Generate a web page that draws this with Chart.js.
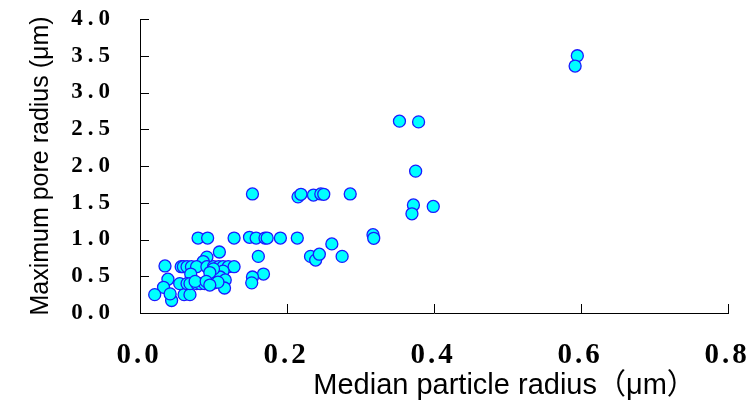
<!DOCTYPE html>
<html>
<head>
<meta charset="utf-8">
<script src="https://cdn.jsdelivr.net/npm/chart.js@4"></script>
<style>
  html, body { margin: 0; padding: 0; background: #fff; }
  #wrap { width: 750px; height: 410px; position: relative; }
</style>
</head>
<body>
<div id="wrap"><canvas id="chart"></canvas></div>
<script>
// median particle radius (um) and maximum pore radius (um)
let radiusX = [
  0.595, 0.592, 0.353, 0.379, 0.375,
  0.153, 0.215, 0.219, 0.236, 0.246, 0.250, 0.286,
  0.372, 0.370, 0.399,
  0.079, 0.092, 0.128, 0.149, 0.158, 0.170, 0.173, 0.191, 0.214,
  0.317, 0.318, 0.261, 0.161, 0.232, 0.239, 0.244, 0.275,
  0.168, 0.153, 0.152,
  0.108, 0.091, 0.086, 0.034,
  0.056, 0.059, 0.064, 0.070, 0.077, 0.091, 0.100, 0.107, 0.113, 0.120, 0.128,
  0.113, 0.069, 0.109, 0.116, 0.038, 0.032, 0.020, 0.043,
  0.041, 0.060, 0.068, 0.115,
  0.054, 0.064, 0.068, 0.077, 0.082, 0.088, 0.095, 0.101, 0.106,
  0.100, 0.095, 0.075, 0.090, 0.095
];
let poreY = [
  3.50, 3.36, 2.61, 2.60, 1.93,
  1.62, 1.58, 1.615, 1.605, 1.62, 1.615, 1.62,
  1.47, 1.35, 1.45,
  1.02, 1.02, 1.02, 1.03, 1.02, 1.02, 1.02, 1.02, 1.02,
  1.065, 1.016, 0.94, 0.77, 0.77, 0.72, 0.80, 0.77,
  0.53, 0.49, 0.41,
  0.83, 0.76, 0.70, 0.64,
  0.63, 0.63, 0.63, 0.63, 0.63, 0.63, 0.63, 0.63, 0.63, 0.63, 0.63,
  0.57, 0.53, 0.49, 0.45, 0.46, 0.35, 0.25, 0.17,
  0.26, 0.25, 0.25, 0.34,
  0.40, 0.40, 0.40, 0.40, 0.40, 0.40, 0.40, 0.41, 0.42,
  0.60, 0.55, 0.43, 0.43, 0.38
];
let xTitle = "Median particle radius（μm）";
let yTitle = "Maximum pore radius (μm)";

let points = radiusX.map((x, i) => ({ x: x, y: poreY[i] }));

// letter spacing (and a small nudge) for the tick labels, per scale
const spacingPlugin = {
  id: 'spacing',
  afterLayout(chart) {
    Object.values(chart.scales).forEach(scale => {
      if (scale._wrapped) return;
      let orig = scale.drawLabels;
      let sp = scale.options.ticks.spacing || '0px';
      let dx = scale.options.ticks.shift || 0;
      scale.drawLabels = function (area) {
        let c = this.ctx;
        c.save();
        c.letterSpacing = sp;
        c.translate(dx, 0);
        orig.call(this, area);
        c.restore();
      };
      scale._wrapped = true;
    });
  }
};

// tick marks point into the plot, like the original
const innerTicks = {
  id: 'innerTicks',
  afterDraw(chart) {
    let c = chart.ctx;
    let a = chart.chartArea;
    let xs = chart.scales.x, ys = chart.scales.y;
    c.save();
    c.strokeStyle = '#000';
    c.lineWidth = 1;
    c.beginPath();
    xs.ticks.forEach(t => {
      let px = Math.round(xs.getPixelForValue(t.value)) + 0.5;
      c.moveTo(px, a.bottom);
      c.lineTo(px, a.bottom - 9);
    });
    ys.ticks.forEach(t => {
      let py = Math.round(ys.getPixelForValue(t.value)) + 0.5;
      c.moveTo(a.left, py);
      c.lineTo(a.left + 9, py);
    });
    c.stroke();
    c.restore();
  }
};

// x axis title sits right of centre in the original
const xTitlePlugin = {
  id: 'xtitle',
  afterDraw(chart) {
    let c = chart.ctx;
    let a = chart.chartArea;
    c.save();
    c.font = '29px "Liberation Sans", "Noto Sans CJK SC", sans-serif';
    c.fillStyle = '#000';
    c.textAlign = 'center';
    c.textBaseline = 'middle';
    c.fillText(xTitle, a.left + (a.right - a.left) * 0.62, 386);
    c.restore();
  }
};

function noPad(s) {
  s.paddingTop = 0;
  s.paddingBottom = 0;
  s.paddingLeft = 0;
  s.paddingRight = 0;
}

new Chart(document.getElementById('chart'), {
  type: 'scatter',
  data: {
    datasets: [{
      data: points,
      pointRadius: 6,
      pointHoverRadius: 6,
      pointBackgroundColor: '#00FFFF',
      pointBorderColor: '#1a1aff',
      pointBorderWidth: 1.3
    }]
  },
  options: {
    responsive: true,
    maintainAspectRatio: false,
    animation: false,
    events: [],
    layout: { padding: { left: 0, right: 22, top: 19, bottom: 0 } },
    plugins: {
      legend: { display: false },
      tooltip: { enabled: false }
    },
    scales: {
      x: {
        type: 'linear',
        min: 0,
        max: 0.8,
        afterFit: s => { s.height = 97; noPad(s); },
        border: { color: '#000', width: 1 },
        grid: { drawOnChartArea: false, drawTicks: false },
        ticks: {
          stepSize: 0.2,
          padding: 25,
          color: '#000',
          spacing: '3px',
          shift: -1,
          maxRotation: 0,
          font: { family: '"Liberation Serif", serif', size: 29, weight: 'bold' },
          callback: v => v.toFixed(1)
        }
      },
      y: {
        type: 'linear',
        min: 0,
        max: 4,
        afterFit: s => { s.width = 140; noPad(s); },
        border: { color: '#000', width: 1 },
        grid: { drawOnChartArea: false, drawTicks: false },
        title: {
          display: true,
          text: yTitle,
          color: '#000',
          font: { family: '"Liberation Sans", sans-serif', size: 25 },
          padding: { top: 26, bottom: 0 }
        },
        ticks: {
          stepSize: 0.5,
          padding: 25,
          color: '#000',
          spacing: '5px',
          font: { family: '"Liberation Serif", serif', size: 23, weight: 'bold' },
          callback: v => v.toFixed(1)
        }
      }
    }
  },
  plugins: [spacingPlugin, innerTicks, xTitlePlugin]
});
</script>
</body>
</html>
